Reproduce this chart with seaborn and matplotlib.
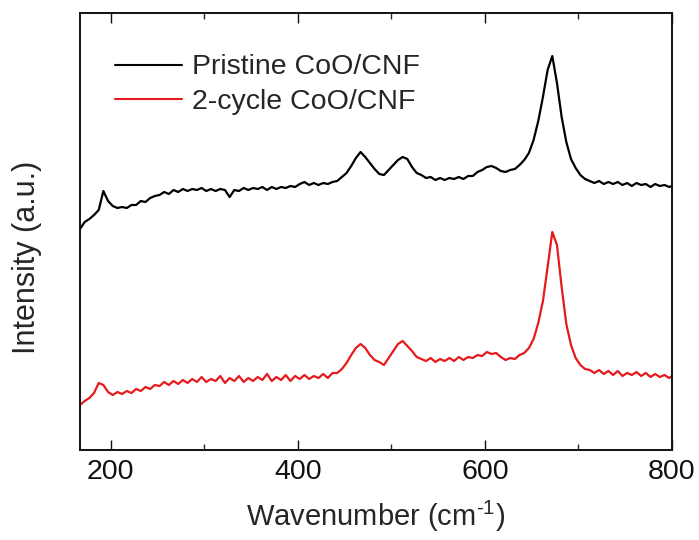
import numpy as np
import pandas as pd
import matplotlib
matplotlib.use("Agg")
import matplotlib.pyplot as plt
import seaborn as sns

# Wavenumber grid (cm^-1)
wavenumber = [167, 172, 177, 182, 187, 192, 197, 202, 207, 212,
              217, 222, 227, 232, 237, 242, 247, 252, 257, 262,
              267, 272, 277, 282, 287, 292, 297, 302, 307, 312,
              317, 322, 327, 332, 337, 342, 347, 352, 357, 362,
              367, 372, 377, 382, 387, 392, 397, 402, 407, 412,
              417, 422, 427, 432, 437, 442, 447, 452, 457, 462,
              467, 472, 477, 482, 487, 492, 497, 502, 507, 512,
              517, 522, 527, 532, 537, 542, 547, 552, 557, 562,
              567, 572, 577, 582, 587, 592, 597, 602, 607, 612,
              617, 622, 627, 632, 637, 642, 647, 652, 657, 662,
              667, 672, 677, 682, 687, 692, 697, 702, 707, 712,
              717, 722, 727, 732, 737, 742, 747, 752, 757, 762,
              767, 772, 777, 782, 787, 792, 797, 800]

# Pristine CoO/CNF (offset spectrum, a.u.)
pristine = [218, 225, 228, 232, 237, 256, 246, 241, 239, 240,
            239, 242, 242, 246, 245, 249, 251, 252, 255, 253,
            257, 255, 258, 256, 258, 257, 259, 256, 258, 256,
            258, 257, 250, 257, 256, 259, 257, 259, 258, 260,
            257, 260, 258, 260, 259, 261, 260, 263, 265, 262,
            264, 262, 264, 263, 265, 266, 270, 274, 281, 289,
            295, 290, 284, 278, 273, 272, 277, 282, 287, 290,
            288, 280, 274, 272, 269, 270, 267, 269, 267, 269,
            268, 270, 268, 271, 271, 275, 277, 280, 281, 279,
            276, 275, 277, 278, 282, 287, 294, 307, 326, 350,
            377, 391, 364, 330, 305, 288, 279, 272, 268, 266,
            264, 266, 263, 265, 263, 265, 262, 264, 261, 264,
            262, 263, 260, 263, 261, 262, 260, 261]

# 2-cycle CoO/CNF (a.u.)
cycled = [42, 46, 49, 54, 64, 62, 55, 52, 55, 53,
          56, 54, 58, 56, 60, 58, 62, 61, 65, 62,
          66, 63, 67, 64, 68, 65, 70, 65, 68, 66,
          71, 64, 69, 66, 71, 65, 69, 66, 70, 67,
          73, 66, 70, 67, 72, 66, 71, 68, 72, 68,
          71, 69, 73, 69, 74, 74, 78, 84, 92, 99,
          103, 99, 92, 87, 85, 82, 89, 96, 103, 106,
          101, 96, 90, 88, 86, 89, 85, 88, 86, 89,
          86, 90, 87, 90, 89, 92, 91, 95, 93, 94,
          90, 87, 89, 88, 92, 94, 99, 108, 124, 146,
          180, 215, 202, 160, 123, 102, 89, 82, 78, 77,
          74, 77, 73, 76, 72, 76, 71, 74, 72, 75,
          71, 74, 70, 73, 70, 72, 69, 71]

labels = ["Pristine CoO/CNF", "2-cycle CoO/CNF"]
colors = ["#000000", "#e41a1c"]
major_ticks = [200, 400, 600, 800]
minor_ticks = [300, 500, 700]

sns.set_style("ticks")
plt.rcParams["font.family"] = ["Liberation Sans", "DejaVu Sans"]
plt.rcParams["mathtext.fontset"] = "custom"
plt.rcParams["mathtext.rm"] = "Liberation Sans"
plt.rcParams["mathtext.it"] = "Liberation Sans:italic"

df = pd.DataFrame({
    "Wavenumber": wavenumber * 2,
    "Intensity": pristine + cycled,
    "Sample": [labels[0]] * len(wavenumber) + [labels[1]] * len(wavenumber),
})

fig = plt.figure(figsize=(6.99, 5.40), dpi=100)
ax = fig.add_axes([80 / 699, 1 - 449.5 / 540, 592 / 699, 436.5 / 540])

sns.lineplot(data=df, x="Wavenumber", y="Intensity", hue="Sample",
             palette=dict(zip(labels, colors)), estimator=None, sort=False,
             linewidth=1.6, ax=ax)

ax.set_xlim(167, 800)
ax.set_ylim(-2.5, 434)
ax.set_xticks(major_ticks)
ax.set_xticks(minor_ticks, minor=True)
ax.set_yticks([])
ax.tick_params(axis="x", which="major", direction="in", length=7.2, width=1.0,
               top=True, bottom=True, labelsize=20.5, pad=7, colors="#111111")
ax.tick_params(axis="x", which="minor", direction="in", length=4.0, width=1.0,
               top=True, bottom=True)
for sp in ax.spines.values():
    sp.set_linewidth(1.4)
    sp.set_color("#111111")

ax.set_xlabel(r"Wavenumber (cm$^{\text{-}1}$)", fontsize=21, labelpad=10)
ax.set_ylabel("Intensity (a.u.)", fontsize=22)
ax.yaxis.set_label_coords(-0.064, 0.44)

leg = ax.legend(loc="upper left", bbox_to_anchor=(0.059, 0.905), frameon=False,
                fontsize=20.5, handlelength=2.35, handletextpad=0.35,
                labelspacing=0.3, borderpad=0, borderaxespad=0)
for line in leg.get_lines():
    line.set_linewidth(1.5)

fig.savefig("out.png", dpi=100)
